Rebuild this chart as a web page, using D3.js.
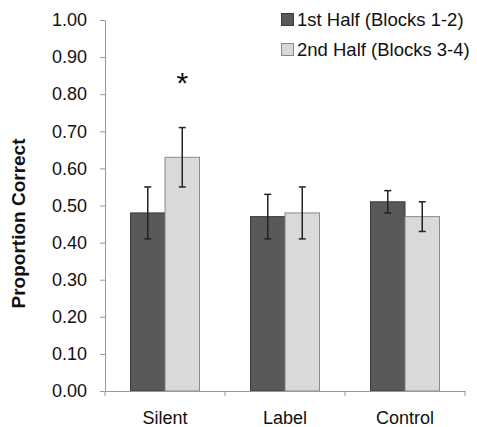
<!DOCTYPE html>
<html>
<head>
<meta charset="utf-8">
<script src="https://cdn.jsdelivr.net/npm/d3@7"></script>
<style>
  body { margin: 0; background: #fff; }
  text { font-family: "Liberation Sans", Arial, sans-serif; }
</style>
</head>
<body>
<svg width="477" height="427"></svg>
<script>
(function (d3) {
  'use strict';
  const categories = ['Silent', 'Label', 'Control'];
  const seriesNames = ['1st Half (Blocks 1-2)', '2nd Half (Blocks 3-4)'];
  const firstHalf = [0.48, 0.47, 0.51];
  const secondHalf = [0.63, 0.48, 0.47];
  const firstErr = [0.07, 0.06, 0.03];
  const secondErr = [0.08, 0.07, 0.04];
  const yTicks = [0, 0.1, 0.2, 0.3, 0.4, 0.5, 0.6, 0.7, 0.8, 0.9, 1.0];
  const yAxisLabelText = 'Proportion Correct';

  const fills = ['#595959', '#d9d9d9'];
  const strokes = ['#3a3a3a', '#8a8a8a'];
  const axisColor = '#999';

  const svg = d3.select('svg');
  const margin = { top: 20, left: 105, right: 12, bottom: 36 };
  const width = +svg.attr('width');
  const height = +svg.attr('height');

  const xScale = d3.scaleBand()
    .domain(categories)
    .range([margin.left, width - margin.right]);
  const yScale = d3.scaleLinear()
    .domain([0, 1])
    .range([height - margin.bottom, margin.top]);

  const barW = 34.5;
  const x1 = d3.scaleBand()
    .domain([0, 1])
    .range([xScale.bandwidth() / 2 - barW, xScale.bandwidth() / 2 + barW]);

  const rows = categories.map((c, i) => ({
    cat: c,
    vals: [
      { s: 0, v: firstHalf[i], e: firstErr[i] },
      { s: 1, v: secondHalf[i], e: secondErr[i] }
    ]
  }));

  // bars
  const groups = svg.append('g').selectAll('g').data(rows)
    .enter().append('g')
      .attr('transform', d => `translate(${xScale(d.cat)},0)`);

  groups.selectAll('rect').data(d => d.vals)
    .enter().append('rect')
      .attr('x', d => x1(d.s))
      .attr('width', x1.bandwidth())
      .attr('y', d => yScale(d.v))
      .attr('height', d => yScale(0) - yScale(d.v))
      .attr('fill', d => fills[d.s])
      .attr('stroke', d => strokes[d.s])
      .attr('stroke-width', 1);

  // error bars
  const eb = groups.selectAll('g.err').data(d => d.vals)
    .enter().append('g').attr('class', 'err')
      .attr('stroke', '#222')
      .attr('stroke-width', 1.5);
  const cx = d => x1(d.s) + x1.bandwidth() / 2;
  eb.append('line')
    .attr('x1', cx).attr('x2', cx)
    .attr('y1', d => yScale(d.v - d.e)).attr('y2', d => yScale(d.v + d.e));
  eb.append('line')
    .attr('x1', d => cx(d) - 3.5).attr('x2', d => cx(d) + 3.5)
    .attr('y1', d => yScale(d.v + d.e)).attr('y2', d => yScale(d.v + d.e));
  eb.append('line')
    .attr('x1', d => cx(d) - 3.5).attr('x2', d => cx(d) + 3.5)
    .attr('y1', d => yScale(d.v - d.e)).attr('y2', d => yScale(d.v - d.e));

  // y axis
  const yAxisG = svg.append('g')
    .attr('transform', `translate(${margin.left},0)`)
    .call(d3.axisLeft(yScale).tickValues(yTicks).tickFormat(d3.format('.2f'))
      .tickSize(5).tickPadding(13).tickSizeOuter(0));
  yAxisG.selectAll('.domain, .tick line').attr('stroke', axisColor);
  yAxisG.selectAll('text').attr('font-size', 18).attr('fill', '#111')
    .attr('font-family', '"Liberation Sans", Arial, sans-serif');

  // x axis
  const xAxisG = svg.append('g')
    .attr('transform', `translate(0,${yScale(0)})`)
    .call(d3.axisBottom(xScale).tickSize(0).tickPadding(20).tickSizeOuter(0));
  xAxisG.select('.domain').attr('stroke', axisColor);
  xAxisG.selectAll('text').attr('font-size', 18).attr('fill', '#111')
    .attr('font-family', '"Liberation Sans", Arial, sans-serif');
  const edges = categories.map(c => xScale(c)).concat([xScale.range()[1]]);
  xAxisG.selectAll('line.edge').data(edges)
    .enter().append('line').attr('class', 'edge')
      .attr('x1', d => d).attr('x2', d => d)
      .attr('y1', 0).attr('y2', 5)
      .attr('stroke', axisColor);

  // y axis label
  svg.append('text')
    .attr('transform', `translate(25,${(yScale(0) + yScale(1)) / 2 + 18}) rotate(-90)`)
    .attr('text-anchor', 'middle')
    .attr('font-size', 19)
    .attr('font-weight', 'bold')
    .attr('fill', '#111')
    .text(yAxisLabelText);

  // significance marker
  svg.append('text')
    .attr('x', xScale('Silent') + x1(1) + x1.bandwidth() / 2)
    .attr('y', yScale(secondHalf[0] + secondErr[0]) - 35)
    .attr('text-anchor', 'middle')
    .attr('font-size', 30)
    .attr('fill', '#111')
    .text('*');

  // legend
  const legend = svg.append('g').attr('transform', 'translate(281,0)');
  const li = legend.selectAll('g').data(seriesNames)
    .enter().append('g')
      .attr('transform', (d, i) => `translate(0,${20 + i * 30})`);
  li.append('rect')
    .attr('x', 0.5).attr('y', -6.5)
    .attr('width', 12).attr('height', 12)
    .attr('fill', (d, i) => fills[i])
    .attr('stroke', (d, i) => strokes[i]);
  li.append('text')
    .attr('x', 16)
    .attr('dy', '0.35em')
    .attr('font-size', 18.5)
    .attr('fill', '#111')
    .text(d => d);
}(d3));
</script>
</body>
</html>
